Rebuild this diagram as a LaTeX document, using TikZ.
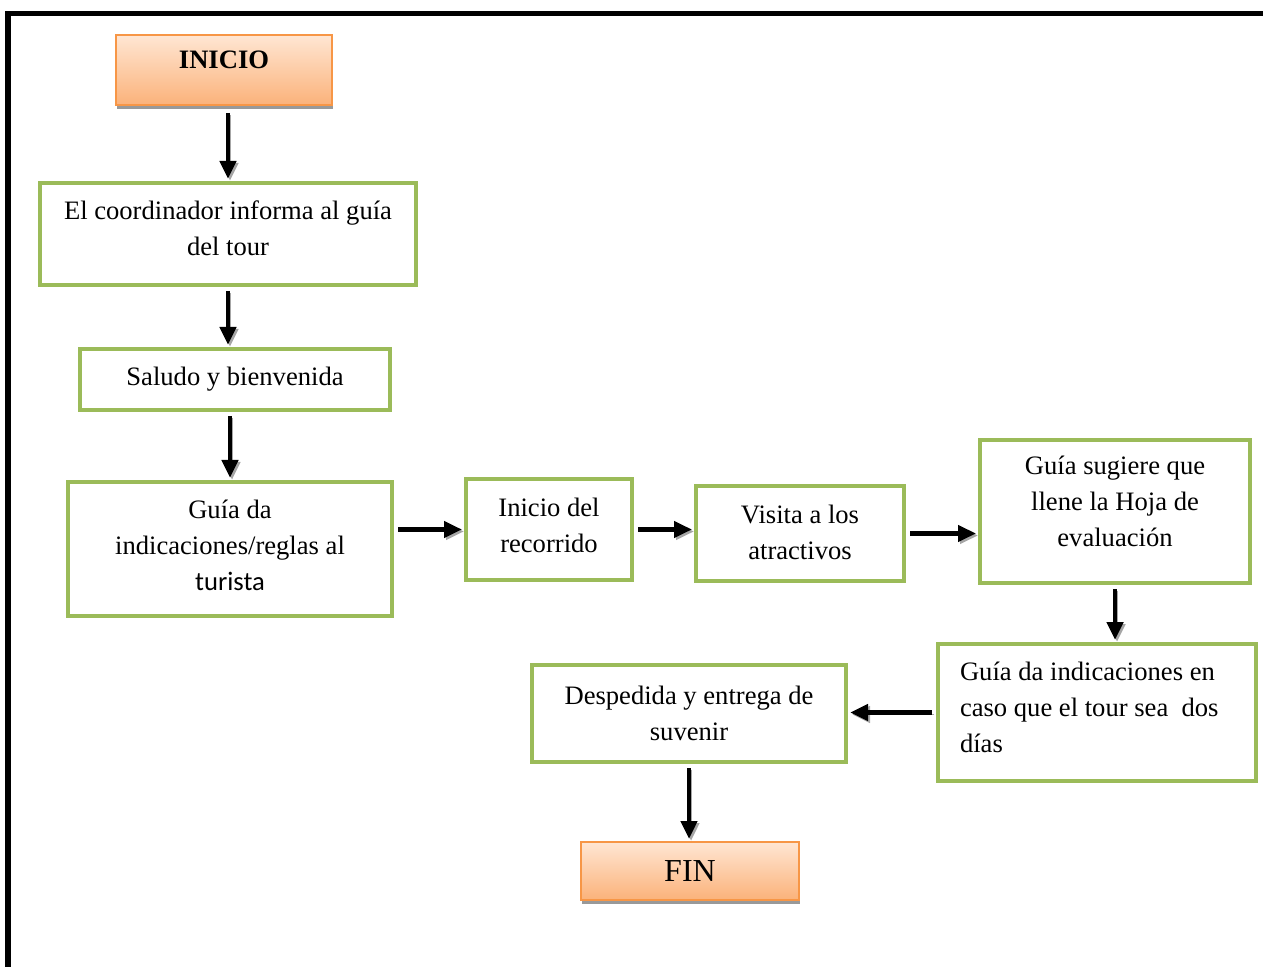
\documentclass[tikz,border=0pt]{standalone}
\usepackage{fontspec}
\setmainfont{Liberation Serif}
\newfontfamily\calibri{Carlito}
\usetikzlibrary{arrows.meta,shadows}
\definecolor{verde}{HTML}{9BBB59}
\definecolor{naranja}{HTML}{F79646}
\definecolor{durazno}{HTML}{FFE6D3}
\definecolor{salmon}{HTML}{FBB27A}

\begin{document}
\begin{tikzpicture}[x=0.5pt,y=-0.5pt,
    paso/.style={draw=verde,line width=2pt,fill=white,align=center,inner sep=0pt,
      font=\fontsize{13.3}{18}\selectfont},
    extremo/.style={draw=naranja,line width=1pt,top color=durazno,bottom color=salmon,
      inner sep=0pt,drop shadow={shadow xshift=0.6pt,shadow yshift=-1.8pt,fill=black!40,opacity=1}},
    flecha/.style={line width=2.4pt,-{Triangle[length=9pt,width=8pt]},shorten <=2pt,shorten >=1pt,
      preaction={draw=black!35,transform canvas={shift={(1pt,-1pt)}}}}]
  \useasboundingbox (0,0) rectangle (1263,967);
  % marco de la hoja
  \draw[line width=2.6pt] (8,985) -- (8,13.5) -- (1280,13.5);

  % inicio y fin
  \node[extremo,minimum width=108pt,minimum height=35pt,text depth=10pt,
    font=\fontsize{13.3}{16}\selectfont\bfseries] (inicio) at (224,70) {INICIO};
  \node[extremo,minimum width=109pt,minimum height=29pt,
    font=\fontsize{16}{18}\selectfont] (fin) at (690,871) {FIN};

  % pasos del recorrido
  \node[paso,minimum width=188pt,minimum height=51pt,text depth=6pt] (coord) at (228,234)
    {El coordinador informa al guía\\del tour};
  \node[paso,minimum width=155pt,minimum height=30.5pt] (saludo) at (235,379.5)
    {Saludo y bienvenida};
  \node[paso,minimum width=162pt,minimum height=67pt,text depth=4pt] (reglas) at (230,549)
    {Guía da\\indicaciones/reglas al\\{\calibri turista}};
  \node[paso,minimum width=83pt,minimum height=50.5pt,text depth=4.5pt] (recorrido) at (549,529.5)
    {Inicio del\\recorrido};
  \node[paso,minimum width=104pt,minimum height=47.5pt,text depth=1.5pt] (visita) at (800,533.5)
    {Visita a los\\atractivos};
  \node[paso,minimum width=135pt,minimum height=71.5pt,text depth=10pt] (hoja) at (1115,511.5)
    {Guía sugiere que\\llene la Hoja de\\evaluación};
  \node[paso,minimum width=159pt,minimum height=68.5pt,align=flush left,text width=137pt,
    text height=4.5pt] (dias) at (1097,712.5)
    {Guía da indicaciones en\\caso que el tour sea~ dos\\días};
  \node[paso,minimum width=157pt,minimum height=48.5pt] (despedida) at (689,713.5)
    {Despedida y entrega de\\suvenir};

  % flechas
  \draw[flecha,shorten <=3.5pt] (inicio.south -| coord.north) -- (coord.north);
  \draw[flecha] (coord.south) -- (coord.south |- saludo.north);
  \draw[flecha] (saludo.south -| reglas.north) -- (reglas.north);
  \draw[flecha] (reglas.east |- recorrido.west) -- (recorrido.west);
  \draw[flecha] (recorrido.east) -- (recorrido.east -| visita.west);
  \draw[flecha] (visita.east) -- (visita.east -| hoja.west);
  \draw[flecha] (hoja.south) -- (hoja.south |- dias.north);
  \draw[flecha] (dias.west) -- (dias.west -| despedida.east);
  \draw[flecha] (despedida.south) -- (despedida.south |- fin.north);
\end{tikzpicture}
\end{document}
